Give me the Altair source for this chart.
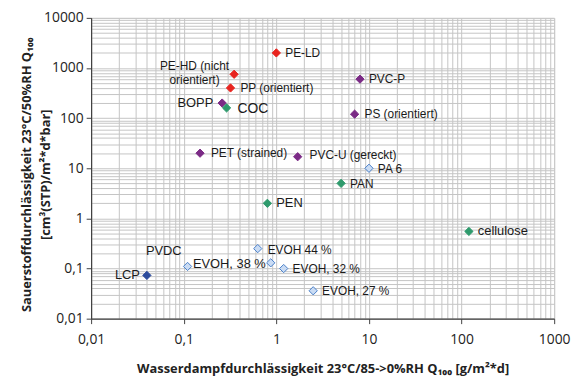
import altair as alt
import pandas as pd

# ---- data ----
names = ["PE-LD", "PE-HD (nicht\norientiert)", "PP (orientiert)", "BOPP", "COC",
         "PET (strained)", "PVC-P", "PS (orientiert)", "PVC-U (gereckt)", "PA 6",
         "PAN", "PEN", "cellulose", "EVOH 44 %", "EVOH, 38 %", "EVOH, 32 %",
         "EVOH, 27 %", "PVDC", "LCP"]
wvtr = [1.0, 0.35, 0.32, 0.26, 0.29, 0.15, 8.0, 7.0, 1.7, 10.0,
        5.0, 0.8, 120.0, 0.63, 0.87, 1.2, 2.5, 0.11, 0.04]
otr = [2000, 750, 400, 200, 160, 20, 600, 120, 17, 10,
       5, 2, 0.55, 0.25, 0.13, 0.1, 0.036, 0.11, 0.073]
groups = ["rot", "rot", "rot", "lila", "gruen", "lila", "lila", "lila", "lila", "hellblau",
          "gruen", "gruen", "gruen", "hellblau", "hellblau", "hellblau", "hellblau", "hellblau", "dunkelblau"]

x_ticks = [0.01, 0.1, 1, 10, 100, 1000]
y_ticks = [0.01, 0.1, 1, 10, 100, 1000, 10000]

# ---- layout of labels (pixel offsets from marker, alignment, font size) ----
label_dx = [9, -40, 10, -9, 11, 11, 9, 10, 12, 9, 9, 9, 9, 10, -5, 9, 9, -6, -7]
label_dy = [0, -8, 0, 0, 1, 0, 0, 0, -2, 1, 1, 0, 0, 1, 1, 1, 0, -16, 0]
label_align = ["left", "center", "left", "right", "left", "left", "left", "left", "left", "left",
               "left", "left", "left", "left", "right", "left", "left", "right", "right"]
label_size = [12, 12, 12, 13, 14, 12, 12, 12, 12, 12, 12, 13, 13, 12, 13, 12, 12, 13, 13]

df = pd.DataFrame({"name": names, "x": wvtr, "y": otr, "grp": groups})

grp_dom = ["rot", "lila", "gruen", "hellblau", "dunkelblau"]
fill_rng = ["#e8231e", "#7b2b86", "#2e9a6c", "#cadcf4", "#2c4b9c"]
stroke_rng = ["#e8231e", "#7b2b86", "#2e9a6c", "#4a7fc8", "#2c4b9c"]

x_grid = [k * 10.0 ** d for d in range(-2, 3) for k in range(1, 10)] + [1000]
y_grid = [k * 10.0 ** d for d in range(-2, 4) for k in range(1, 10)] + [10000]

major_test_x = "indexof([0.01,0.1,1,10,100,1000], datum.value) >= 0"
major_test_y = "indexof([0.01,0.1,1,10,100,1000,10000], datum.value) >= 0"

xscale = alt.Scale(type="log", domain=[0.01, 1000], nice=False)
yscale = alt.Scale(type="log", domain=[0.01, 10000], nice=False)

x_axis = alt.Axis(
    values=x_grid,
    labelExpr=f"{major_test_x} ? replace(toString(datum.value), '.', ',') : ''",
    labelOverlap=False, labelFlush=False,
    grid=True, gridColor="#c4c4c4", gridWidth=1,
    tickSize=5, tickColor="#404040",
    tickOpacity={"condition": {"test": major_test_x, "value": 1}, "value": 0},
    labelPadding=9, labelFont="Open Sans", labelFontSize=14, labelColor="#222222",
    domainColor="#404040", domainWidth=1.2,
    title="Wasserdampfdurchlässigkeit 23°C/85->0%RH Q₁₀₀ [g/m²*d]",
    titleFont="Open Sans", titleFontSize=13, titleFontWeight="bold", titleColor="#222222",
    titleY=44, titleBaseline="top",
)
y_axis = alt.Axis(
    values=y_grid,
    labelExpr=f"{major_test_y} ? replace(toString(datum.value), '.', ',') : ''",
    labelOverlap=False, labelFlush=False,
    grid=True, gridColor="#c4c4c4", gridWidth=1,
    tickSize=5, tickColor="#404040",
    tickOpacity={"condition": {"test": major_test_y, "value": 1}, "value": 0},
    labelPadding=3, labelFont="Open Sans", labelFontSize=14, labelColor="#222222",
    domainColor="#404040", domainWidth=1.2,
    title=["Sauerstoffdurchlässigkeit 23°C/50%RH Q₁₀₀", "[cm³(STP)/m²*d*bar]"],
    titleFont="Open Sans", titleFontSize=13, titleFontWeight="bold", titleColor="#222222",
    titleLineHeight=19, titleX=-58, titleY=158, titleBaseline="bottom",
)

base = alt.Chart(df)

points = base.mark_point(shape="diamond", filled=True, size=70, strokeWidth=1, opacity=1).encode(
    x=alt.X("x:Q", scale=xscale, axis=x_axis),
    y=alt.Y("y:Q", scale=yscale, axis=y_axis),
    fill=alt.Fill("grp:N", scale=alt.Scale(domain=grp_dom, range=fill_rng), legend=None),
    stroke=alt.Stroke("grp:N", scale=alt.Scale(domain=grp_dom, range=stroke_rng), legend=None),
)

layers = [points]
for i, n in enumerate(names):
    t = base.transform_filter(alt.datum.name == n).mark_text(
        dx=label_dx[i], dy=label_dy[i], align=label_align[i], baseline="middle",
        font="Liberation Sans", fontSize=label_size[i], color="#1a1a1a",
        lineBreak="\n", lineHeight=14,
    ).encode(
        x=alt.X("x:Q", scale=xscale),
        y=alt.Y("y:Q", scale=yscale),
        text="name:N",
    )
    layers.append(t)

chart = alt.layer(*layers).properties(
    width=468, height=304,
    autosize=alt.AutoSizeParams(type="none"),
    padding={"left": 84, "top": 8, "right": 18, "bottom": 60},
).configure_view(stroke="#a0a0a0", strokeWidth=1).configure(background="white")

chart.save("out.html", embed_options={"renderer": "svg", "actions": False})
